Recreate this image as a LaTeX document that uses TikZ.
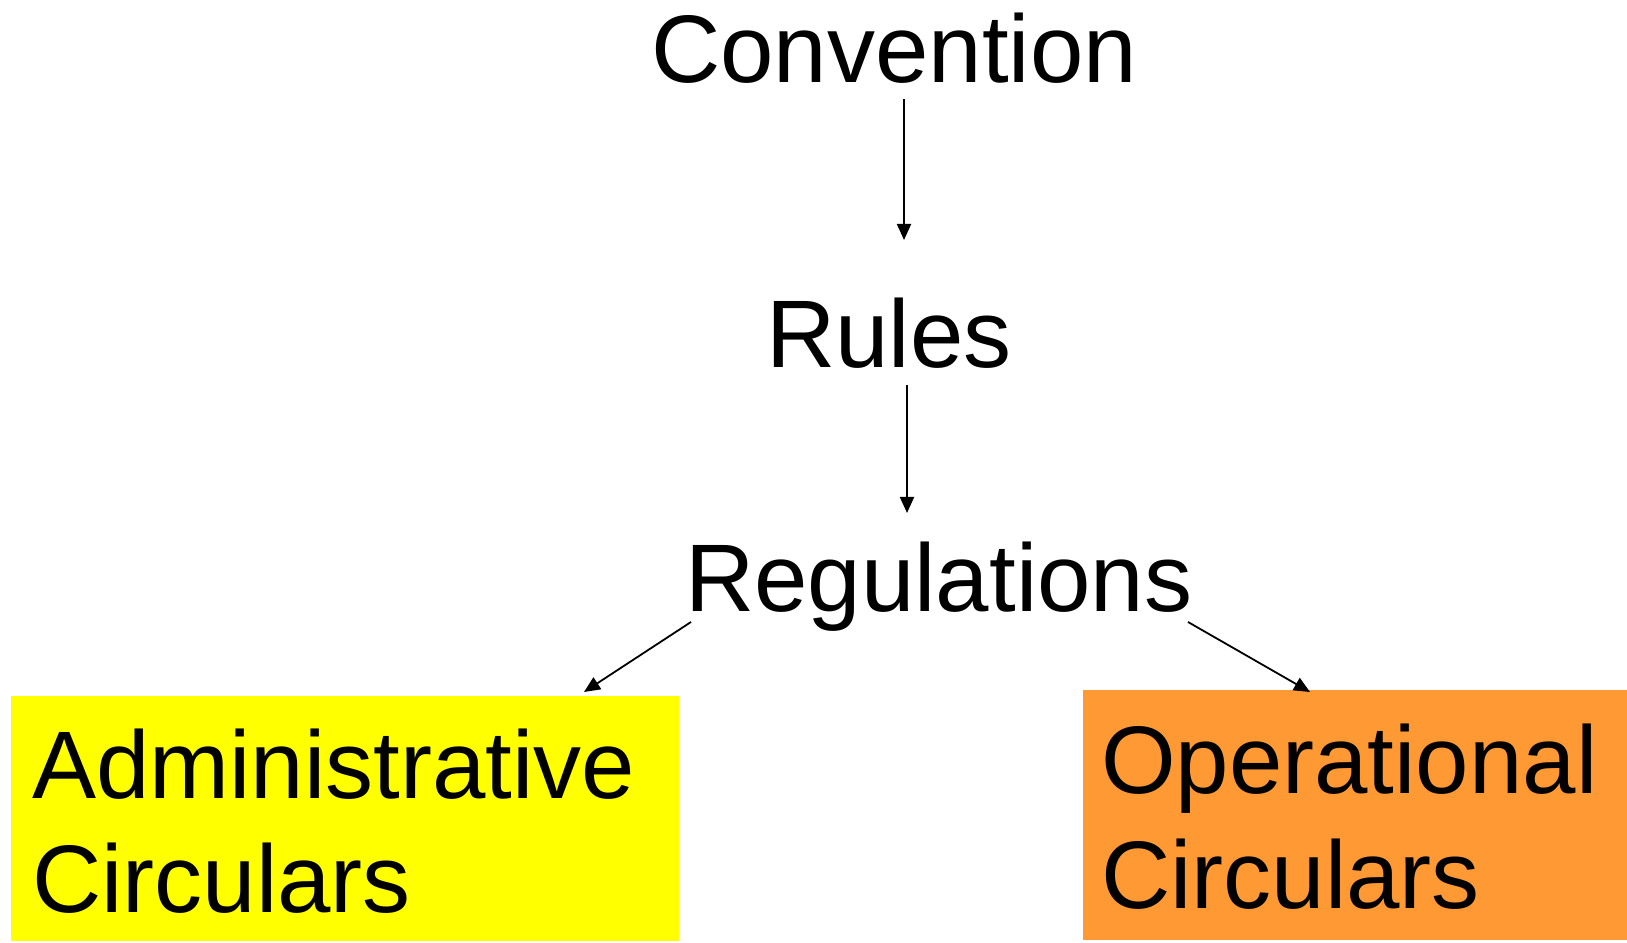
\documentclass[tikz,border=0pt]{standalone}
\usepackage{fontspec}
\setmainfont{Liberation Sans}
\usetikzlibrary{arrows.meta}
\definecolor{boxyellow}{HTML}{FFFF00}
\definecolor{boxorange}{HTML}{FF9933}
\begin{document}
\begin{tikzpicture}[x=1pt,y=1pt,
  lbl/.style={inner sep=0pt, anchor=base west, font=\fontsize{96}{114}\selectfont},
  boxnode/.style={inner sep=0pt, draw=none, anchor=north west},
  conn/.style={line width=1.8pt, -{Triangle[length=16pt,width=14pt]}}]
\useasboundingbox (0,0) rectangle (1627,942);
% boxes
\node[boxnode, fill=boxyellow, minimum width=668pt, minimum height=245pt] (admbox) at (11,246) {};
\node[boxnode, fill=boxorange, minimum width=544pt, minimum height=250pt] (opbox) at (1083,252) {};
% labels
\node[lbl] (conv) at (651,859) {Convention};
\node[lbl] (rules) at (766,574) {Rules};
\node[lbl] (regs) at (685,330) {Regulations};
\node[lbl] (adm1) at (32,143) {Administrative};
\node[lbl] (adm2) at (32,29) {Circulars};
\node[lbl] (op1) at (1101,148) {Operational};
\node[lbl] (op2) at (1101,33) {Circulars};
% connector ends
\coordinate (c1s) at (904,843);
\coordinate (c1e) at (904,702);
\coordinate (c2s) at (907,557);
\coordinate (c2e) at (907,429);
\coordinate (c3s) at (691,320);
\coordinate (c3e) at (584,250);
\coordinate (c4s) at (1188,320);
\coordinate (c4e) at (1310,250);
\draw[conn] (c1s) -- (c1e);
\draw[conn] (c2s) -- (c2e);
\draw[conn] (c3s) -- (c3e);
\draw[conn] (c4s) -- (c4e);
\end{tikzpicture}
\end{document}
